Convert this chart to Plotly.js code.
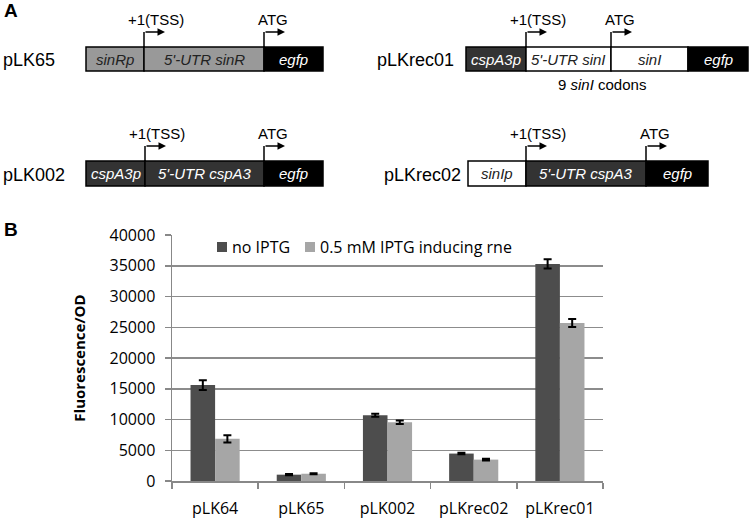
<!DOCTYPE html>
<html>
<head>
<meta charset="utf-8">
<script src="https://cdn.plot.ly/plotly-3.0.1.min.js"></script>
<style>
  html, body { margin: 0; padding: 0; background: #fff; }
  #fig { width: 750px; height: 520px; }
</style>
</head>
<body>
<div id="fig"></div>
<script>
// values
var strains = ['pLK64', 'pLK65', 'pLK002', 'pLKrec02', 'pLKrec01'];
var noIptg = [15600, 1030, 10700, 4460, 35300];
var noIptgErr = [800, 90, 250, 120, 750];
var withIptg = [6850, 1180, 9550, 3480, 25700];
var withIptgErr = [600, 90, 280, 150, 650];
var seriesNames = ['no IPTG', '0.5 mM IPTG inducing rne'];

// plot box of panel B, in pixels
var W = 750, H = 520;
var ml = 172, mr = 147, mt = 235, mb = 39;
var pw = W - ml - mr, ph = H - mt - mb;
function px(x) { return (x - ml) / pw; }
function py(y) { return (H - mb - y) / ph; }

var darkBar = '#4d4d4d', lightBar = '#a6a6a6';
var armFont = 'Liberation Sans, Arial, sans-serif';
var plotFont = 'Open Sans, sans-serif';

// panel A: construct maps (boxes from left to right)
var constructs = [
  { name: 'pLK65', lx: 1, top: 47, bot: 71, arrows: [144, 264], segs: [
    [86, 144, '#999999', 'sinRp', '#222'],
    [144, 264, '#999999', "5'-UTR sinR", '#222'],
    [264, 323, '#000000', 'egfp', '#fff']] },
  { name: 'pLKrec01', lx: 375, top: 47, bot: 71, arrows: [526, 611], segs: [
    [466, 526, '#333333', 'cspA3p', '#fff'],
    [526, 611, '#ffffff', "5'-UTR sinI", '#222'],
    [611, 688, '#ffffff', 'sinI', '#222'],
    [688, 748, '#000000', 'egfp', '#fff']] },
  { name: 'pLK002', lx: 1, top: 161, bot: 186, arrows: [145, 264], segs: [
    [86, 145, '#333333', 'cspA3p', '#fff'],
    [145, 264, '#333333', "5'-UTR cspA3", '#fff'],
    [264, 323, '#000000', 'egfp', '#fff']] },
  { name: 'pLKrec02', lx: 382, top: 161, bot: 186, arrows: [526, 646], segs: [
    [468, 526, '#ffffff', 'sinIp', '#222'],
    [526, 646, '#333333', "5'-UTR cspA3", '#fff'],
    [646, 708, '#000000', 'egfp', '#fff']] }
];

var shapes = [], annotations = [];

constructs.forEach(function (c) {
  var mid = (c.top + c.bot) / 2;
  annotations.push({ xref: 'paper', yref: 'paper', x: px(c.lx), y: py(mid + 1),
    xanchor: 'left', yanchor: 'middle', showarrow: false, text: c.name,
    font: { family: armFont, size: 18, color: '#000' } });
  c.segs.forEach(function (s) {
    shapes.push({ type: 'rect', xref: 'paper', yref: 'paper',
      x0: px(s[0]), x1: px(s[1]), y0: py(c.bot), y1: py(c.top),
      fillcolor: s[2], line: { color: '#000', width: 1.5 } });
    annotations.push({ xref: 'paper', yref: 'paper', x: px((s[0] + s[1]) / 2), y: py(mid),
      xanchor: 'center', yanchor: 'middle', showarrow: false,
      text: '<i>' + s[3] + '</i>', font: { family: armFont, size: 15, color: s[4] } });
  });
  var armTop = c.top - 15;
  c.arrows.forEach(function (ax, i) {
    shapes.push({ type: 'line', xref: 'paper', yref: 'paper',
      x0: px(ax), x1: px(ax), y0: py(c.top), y1: py(armTop),
      line: { color: '#000', width: 1.5 } });
    annotations.push({ xref: 'paper', yref: 'paper', x: px(ax + 21), y: py(armTop),
      ax: -21, ay: 0, axref: 'pixel', ayref: 'pixel', text: '', showarrow: true,
      arrowhead: 2, arrowsize: 1, arrowwidth: 1.5, arrowcolor: '#000', standoff: 0 });
    annotations.push({ xref: 'paper', yref: 'paper',
      x: px(ax + (i === 0 ? 12 : 9)), y: py(c.top - 28),
      xanchor: 'center', yanchor: 'middle', showarrow: false,
      text: i === 0 ? '+1(TSS)' : 'ATG', font: { family: armFont, size: 15, color: '#000' } });
  });
});

annotations.push({ xref: 'paper', yref: 'paper', x: px(602), y: py(85),
  xanchor: 'center', yanchor: 'middle', showarrow: false,
  text: '9 <i>sinI</i> codons', font: { family: armFont, size: 15, color: '#000' } });

// panel letters
annotations.push({ xref: 'paper', yref: 'paper', x: px(2), y: py(10), xanchor: 'left', yanchor: 'middle',
  showarrow: false, text: '<b>A</b>', font: { family: armFont, size: 19, color: '#000' } });
annotations.push({ xref: 'paper', yref: 'paper', x: px(2), y: py(229), xanchor: 'left', yanchor: 'middle',
  showarrow: false, text: '<b>B</b>', font: { family: armFont, size: 19, color: '#000' } });

// legend drawn inside the plot, Excel style
var legendItems = [[217, darkBar, seriesNames[0]], [305, lightBar, seriesNames[1]]];
legendItems.forEach(function (it) {
  shapes.push({ type: 'rect', xref: 'paper', yref: 'paper',
    x0: px(it[0]), x1: px(it[0] + 10), y0: py(252), y1: py(242),
    fillcolor: it[1], line: { width: 0 } });
  annotations.push({ xref: 'paper', yref: 'paper', x: px(it[0] + 13), y: py(246.5),
    xanchor: 'left', yanchor: 'middle', showarrow: false, text: it[2],
    font: { family: plotFont, size: 16, color: '#000' } });
});

var data = [
  { type: 'bar', x: strains, y: noIptg, name: seriesNames[0], marker: { color: darkBar },
    error_y: { type: 'data', array: noIptgErr, visible: true, color: '#000', thickness: 2, width: 4 } },
  { type: 'bar', x: strains, y: withIptg, name: seriesNames[1], marker: { color: lightBar },
    error_y: { type: 'data', array: withIptgErr, visible: true, color: '#000', thickness: 2, width: 4 } }
];

var layout = {
  width: W, height: H,
  margin: { l: ml, r: mr, t: mt, b: mb },
  paper_bgcolor: '#fff', plot_bgcolor: '#fff',
  font: { family: plotFont, size: 16, color: '#000' },
  barmode: 'group', bargap: 0.43, bargroupgap: 0,
  showlegend: false,
  xaxis: {
    showline: true, linecolor: '#888', linewidth: 1.5,
    ticks: 'outside', tickson: 'boundaries', ticklen: 6, tickcolor: '#888', tickwidth: 1.5,
    ticklabelstandoff: 12, showgrid: false, zeroline: false,
    tickfont: { family: plotFont, size: 16, color: '#000' }
  },
  yaxis: {
    range: [0, 40000], dtick: 5000, tickformat: 'd',
    showline: true, linecolor: '#888', linewidth: 1.5,
    ticks: 'outside', ticklen: 6, tickcolor: '#888', tickwidth: 1.5,
    ticklabelstandoff: 6,
    showgrid: true, gridcolor: '#8c8c8c', gridwidth: 1.5, zeroline: false,
    tickfont: { family: plotFont, size: 16, color: '#000' },
    automargin: true,
    title: { text: '<b>Fluorescence/OD</b>', standoff: 20,
      font: { family: plotFont, size: 15, color: '#000' } }
  },
  shapes: shapes,
  annotations: annotations
};

Plotly.newPlot('fig', data, layout, { displayModeBar: false, staticPlot: true });
</script>
</body>
</html>
